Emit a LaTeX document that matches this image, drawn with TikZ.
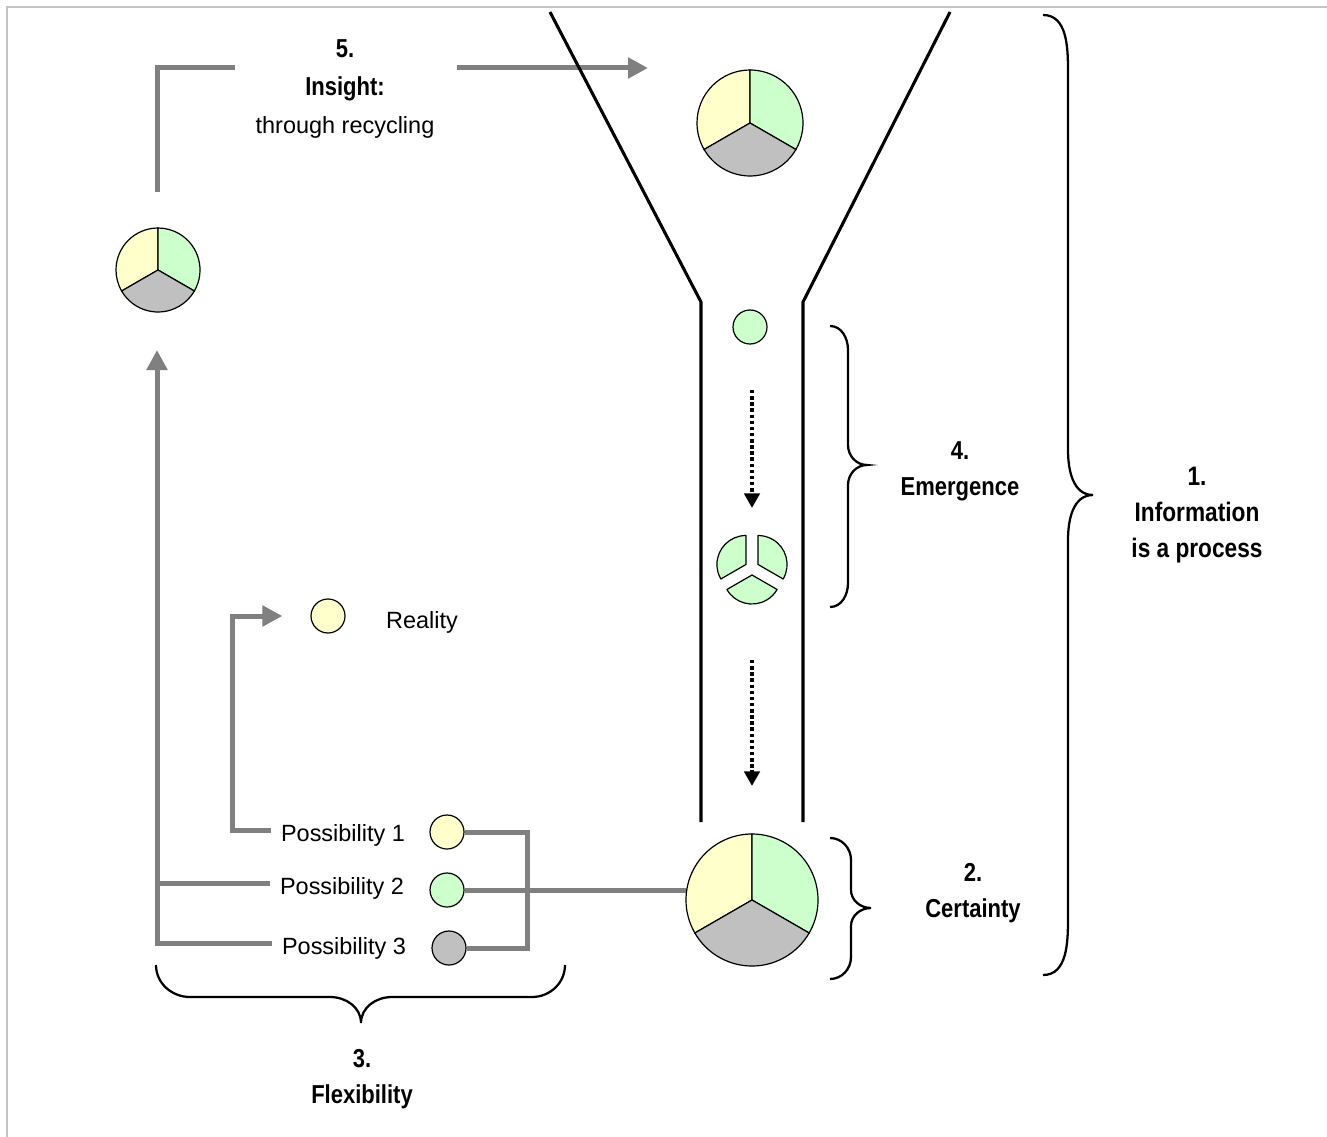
\documentclass[tikz,border=0pt]{standalone}
\usepackage{fontspec}
\setmainfont{Liberation Sans}
\usepackage{graphicx}
\usetikzlibrary{arrows.meta,calc}
\definecolor{pyellow}{RGB}{255,255,204}
\definecolor{pgreen}{RGB}{204,255,204}
\definecolor{pgray}{RGB}{192,192,192}
\definecolor{agray}{RGB}{128,128,128}
\definecolor{bgray}{RGB}{196,196,196}
\newcommand\tallbf[1]{\scalebox{1}[1.18]{\bfseries #1}}
\begin{document}
\begin{tikzpicture}[x=0.75pt,y=-0.75pt,
  garrow/.style={draw=agray,line width=3.75pt,line join=miter},
  gtip/.style={-{Triangle[length=15pt,width=15pt]}},
  funnel/.style={draw=black,line width=2.3pt},
  pieline/.style={draw=black,line width=0.9pt},
  dotc/.style={circle,draw=black,line width=0.9pt,minimum size=25.5pt,inner sep=0pt},
  piebox/.style={circle,minimum size=#1,inner sep=0pt},
  piece/.style={draw=black,line width=0.9pt,fill=pgreen,line join=round},
  dotarrow/.style={draw=black,line width=3pt,dash pattern=on 2.6pt off 2pt,-{Triangle[length=11pt,width=11.5pt]}},
  brace/.style={draw=black,line width=1.7pt},
  txt/.style={font=\fontsize{17.6pt}{21pt}\selectfont,inner sep=0pt},
  lab/.style={font=\fontsize{16.5pt}{27pt}\selectfont,align=center,inner sep=0pt},
  pics/pie/.style={code={
    \draw[pieline,fill=pyellow] (0,0) -- (90:#1) arc[start angle=90,end angle=210,radius=#1] -- cycle;
    \draw[pieline,fill=pgreen] (0,0) -- (-30:#1) arc[start angle=-30,end angle=90,radius=#1] -- cycle;
    \draw[pieline,fill=pgray] (0,0) -- (210:#1) arc[start angle=210,end angle=330,radius=#1] -- cycle;
  }}
]
\useasboundingbox (0,0) rectangle (1327,1137);
\fill[white] (0,0) rectangle (1327,1137);
\draw[bgray,line width=1.5pt] (7,1137) -- (7,7) -- (1327,7);

% pies
\node[piebox=79.5pt] (toppie) at (750,123) {};
\node[piebox=63pt] (leftpie) at (158,270) {};
\node[piebox=99pt] (bigpie) at (752,900) {};

% texts of possibilities
\node[txt] (realt) at (422,622) {Reality};
\node[txt] (p1t) at (343,835) {Possibility 1};
\node[txt] (p2t) at (342,888) {Possibility 2};
\node[txt] (p3t) at (344,948) {Possibility 3};

% gray connectors
\coordinate (i0) at (157,192);
\coordinate (i1) at (157,68);
\coordinate (i2) at (235,68);
\coordinate (i3) at (457,68);
\coordinate (i4) at (648,68);
\draw[garrow] (i0) -- (i1) -- (i2);
\draw[garrow,gtip] (i3) -- (i4);

\coordinate (p1a) at ([xshift=-7pt,yshift=3.75pt]p1t.west);
\coordinate (p2a) at ([xshift=-7pt,yshift=3.75pt]p2t.west);
\coordinate (p3a) at ([xshift=-7pt,yshift=3.75pt]p3t.west);
\coordinate (up) at (157,350);
\coordinate (rk) at (232,616);
\coordinate (bk) at (527,890);

\node[dotc,fill=pyellow] (reality) at (328,616) {};
\node[dotc,fill=pyellow] (p1c) at (447,832) {};
\node[dotc,fill=pgreen] (p2c) at (447,890) {};
\node[dotc,fill=pgray] (p3c) at (449,948) {};
\node[dotc,fill=pgreen] (gsmall) at (750,327) {};

\draw[garrow,gtip] (p3a) -| (up);
\draw[garrow] (p2a) -- (p2a -| up);
\draw[garrow,gtip] (p1a) -| (rk) -- ($(reality.west)+(-28,0)$);
\draw[garrow] (p1c.east) -| (bk) |- (p3c.east);
\draw[garrow] (p2c.east) -- (p2c.east -| bigpie.west);

% funnel
\draw[funnel] (550,12) -- (701,302) -- (701,822);
\draw[funnel] (950,12) -- (803,302) -- (803,822);

% pies drawn
\pic at (toppie) {pie=39.75pt};
\pic at (leftpie) {pie=31.5pt};
\pic at (bigpie) {pie=49.5pt};

% broken pie
\coordinate (bp) at (752,568);
\draw[piece] ([shift={(150:5.25pt)}]bp) -- ++(90:21.75pt) arc[start angle=90,end angle=210,radius=21.75pt] -- cycle;
\draw[piece] ([shift={(30:5.25pt)}]bp) -- ++(-30:21.75pt) arc[start angle=-30,end angle=90,radius=21.75pt] -- cycle;
\draw[piece] ([shift={(270:5.25pt)}]bp) -- ++(210:21.75pt) arc[start angle=210,end angle=330,radius=21.75pt] -- cycle;

% dotted arrows
\coordinate (da1) at (752,390);
\coordinate (da2) at (752,508);
\coordinate (db1) at (752,660);
\coordinate (db2) at (752,786);
\draw[dotarrow] (da1) -- (da2);
\draw[dotarrow] (db1) -- (db2);

% braces
\draw[brace] (1043,15) to[out=0,in=90] (1068,72) -- (1068,450) to[out=-90,in=180] (1093,495)
  to[out=180,in=90] (1068,540) -- (1068,918) to[out=-90,in=0] (1043,975);
\draw[brace] (830,326) to[out=0,in=90] (848,350) -- (848,445) to[out=-90,in=180] (867,465)
  to[out=180,in=90] (848,485) -- (848,583) to[out=-90,in=0] (830,607);
\draw[brace] (830,838) to[out=0,in=90] (851,860) -- (851,890) to[out=-90,in=180] (871,908)
  to[out=180,in=90] (851,926) -- (851,957) to[out=-90,in=0] (830,979);
\draw[brace] (156,965) to[out=-90,in=180] (190,997) -- (330,997) to[out=0,in=90] (361,1023)
  to[out=90,in=180] (392,997) -- (532,997) to[out=0,in=-90] (565,965);

% labels
\node[lab,font=\fontsize{16.5pt}{28.5pt}\selectfont] (l5) at (345,89)
  {\tallbf{5.}\\\tallbf{Insight:}\\{\fontsize{17.6pt}{28.5pt}\selectfont through recycling}};
\node[lab] (l4) at (960,471) {\tallbf{4.}\\\tallbf{Emergence}};
\node[lab] (l2) at (973,893) {\tallbf{2.}\\\tallbf{Certainty}};
\node[lab,font=\fontsize{17pt}{27pt}\selectfont] (l1) at (1197,515) {\tallbf{1.}\\\tallbf{Information}\\\tallbf{is a process}};
\node[lab] (l3) at (362,1079) {\tallbf{3.}\\\tallbf{Flexibility}};
\end{tikzpicture}
\end{document}
